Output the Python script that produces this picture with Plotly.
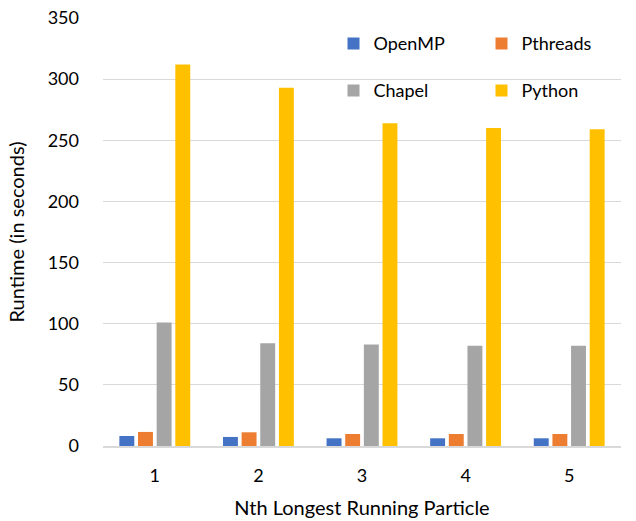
import plotly.graph_objects as go

categories = ["1", "2", "3", "4", "5"]
openmp = [8.2, 7.4, 6.3, 6.3, 6.3]
pthreads = [11.5, 11.2, 9.8, 9.8, 9.8]
chapel = [101, 84, 83, 82, 82]
python_vals = [312, 293, 264, 260, 259]
y_ticks = [0, 50, 100, 150, 200, 250, 300, 350]

FONT = "Lato, Open Sans, sans-serif"
fig = go.Figure()
series = [
    ("OpenMP", openmp, "#4472C4", "legend"),
    ("Pthreads", pthreads, "#ED7D31", "legend"),
    ("Chapel", chapel, "#A5A5A5", "legend2"),
    ("Python", python_vals, "#FFC000", "legend2"),
]
for name, vals, color, lg in series:
    fig.add_trace(go.Bar(x=categories, y=vals, name=name, marker=dict(color=color, line=dict(width=0)), legend=lg))

legend_common = dict(orientation="h", xanchor="left", yanchor="middle", bgcolor="rgba(0,0,0,0)",
                     font=dict(family=FONT, size=18, color="#000"), entrywidth=103, entrywidthmode="pixels",
                     itemwidth=30, traceorder="normal")
fig.update_layout(
    width=636, height=521,
    margin=dict(l=103, r=15, t=18, b=75, autoexpand=False),
    paper_bgcolor="white", plot_bgcolor="white",
    barmode="group", bargap=0.28, bargroupgap=0.2,
    font=dict(family=FONT, size=18, color="#000"),
    legend=dict(x=0.445, y=0.94, **legend_common),
    legend2=dict(x=0.445, y=0.83, **legend_common),
    xaxis=dict(title=dict(text="Nth Longest Running Particle", font=dict(size=20), standoff=16),
               showline=True, linecolor="#d9d9d9", linewidth=2, ticks="", tickfont=dict(size=18),
               ticklabelstandoff=12, automargin=False),
    yaxis=dict(title=dict(text="Runtime (in seconds)", font=dict(size=20), standoff=17),
               range=[0, 350], tickvals=y_ticks, showgrid=True, gridcolor="#d9d9d9", gridwidth=1,
               zeroline=False, tickfont=dict(size=18), ticks="", ticklabelstandoff=23, automargin=False),
)
fig.write_html("out.html", config={"displayModeBar": False},
               post_script="document.body.style.margin='0';document.body.style.overflow='hidden';")
